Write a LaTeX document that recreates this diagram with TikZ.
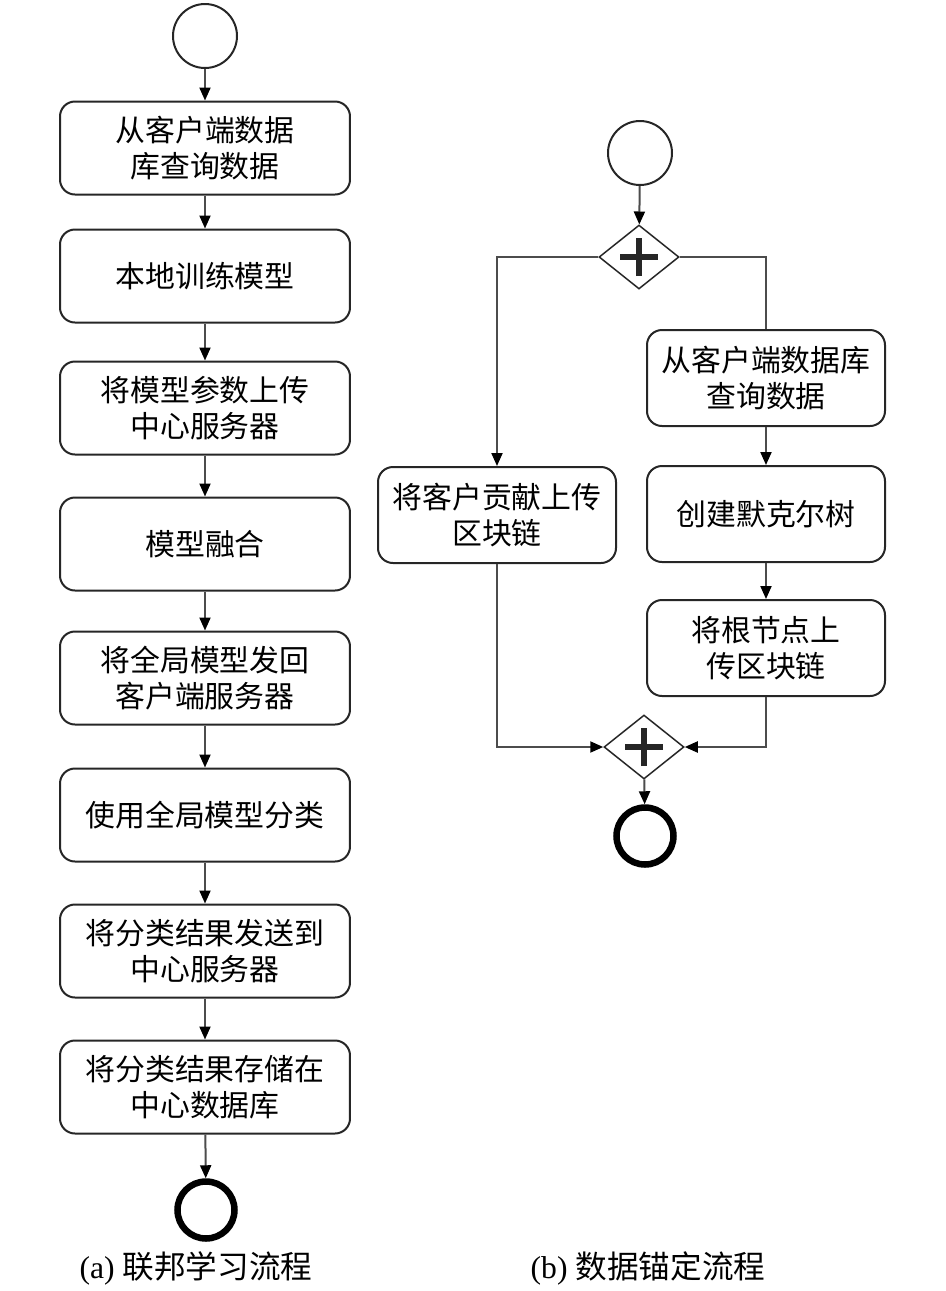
\documentclass[tikz,border=0pt]{standalone}
\usepackage{fontspec}
\setmainfont{Liberation Serif}
\newfontfamily\cjk{Noto Sans CJK SC}
\usetikzlibrary{arrows.meta,shapes.geometric,calc}

\begin{document}
\begin{tikzpicture}[x=0.1mm,y=-0.1mm,
	task/.style={draw=black!85, line width=0.2mm, rounded corners=1.5mm, fill=white,
		align=center, font=\cjk\fontsize{8.5}{10.2}\selectfont, inner sep=0pt},
	ltask/.style={task, minimum width=29mm, minimum height=9.3mm},
	rtask/.style={task, minimum width=23.8mm, minimum height=9.6mm},
	start/.style={circle, draw=black!85, line width=0.2mm, minimum size=6.4mm, inner sep=0pt},
	stop/.style={circle, draw=black, line width=0.65mm, minimum size=5.7mm, inner sep=0pt},
	gate/.style={diamond, draw=black!85, line width=0.15mm, minimum width=8mm, minimum height=6.4mm,
		inner sep=0pt, path picture={
			\draw[line width=0.6mm] ([xshift=-1.9mm]path picture bounding box.center) -- ++(3.8mm,0);
			\draw[line width=0.6mm] ([yshift=-1.9mm]path picture bounding box.center) -- ++(0,3.8mm);}},
	flow/.style={draw=black!70, line width=0.2mm, -{Triangle[length=1.3mm,width=1.1mm,color=black]}},
	line/.style={draw=black!70, line width=0.2mm},
	caption/.style={font=\fontsize{9}{11}\selectfont}]
\useasboundingbox (0,0) rectangle (945,1291);

\node[start] (a0) at (205,36) {};
\node[ltask] (a1) at (205,148) {从客户端数据\\库查询数据};
\node[ltask] (a2) at (205,276) {本地训练模型};
\node[ltask] (a3) at (205,408) {将模型参数上传\\中心服务器};
\node[ltask] (a4) at (205,544) {模型融合};
\node[ltask] (a5) at (205,678) {将全局模型发回\\客户端服务器};
\node[ltask] (a6) at (205,815) {使用全局模型分类};
\node[ltask] (a7) at (205,951) {将分类结果发送到\\中心服务器};
\node[ltask] (a8) at (205,1087) {将分类结果存储在\\中心数据库};
\node[stop] (a9) at (206,1210) {};

\foreach \i [count=\j from 1] in {0,...,8}
	\draw[flow] (a\i) -- (a\j);

\node[start] (b0) at (640,153) {};
\node[gate] (g1) at (639,257) {};
\node[rtask] (b1) at (497,515) {将客户贡献上传\\区块链};
\node[rtask] (c1) at (766,378) {从客户端数据库\\查询数据};
\node[rtask] (c2) at (766,514) {创建默克尔树};
\node[rtask] (c3) at (766,648) {将根节点上\\传区块链};
\node[gate] (g2) at (644,747) {};
\node[stop] (b9) at (645,836) {};

\draw[flow] (b0) -- (g1);
\draw[flow] (g1.west) -| (b1.north);
\draw[line] (g1.east) -| (c1.north);
\draw[flow] (c1) -- (c2);
\draw[flow] (c2) -- (c3);
\draw[flow] (b1.south) |- (g2.west);
\draw[flow] (c3.south) |- (g2.east);
\draw[flow] (g2) -- (b9);

\node[caption] (capa) at (196,1268) {(a) {\cjk 联邦学习流程}};
\node[caption] (capb) at (648,1268) {(b) {\cjk 数据锚定流程}};
\end{tikzpicture}
\end{document}
